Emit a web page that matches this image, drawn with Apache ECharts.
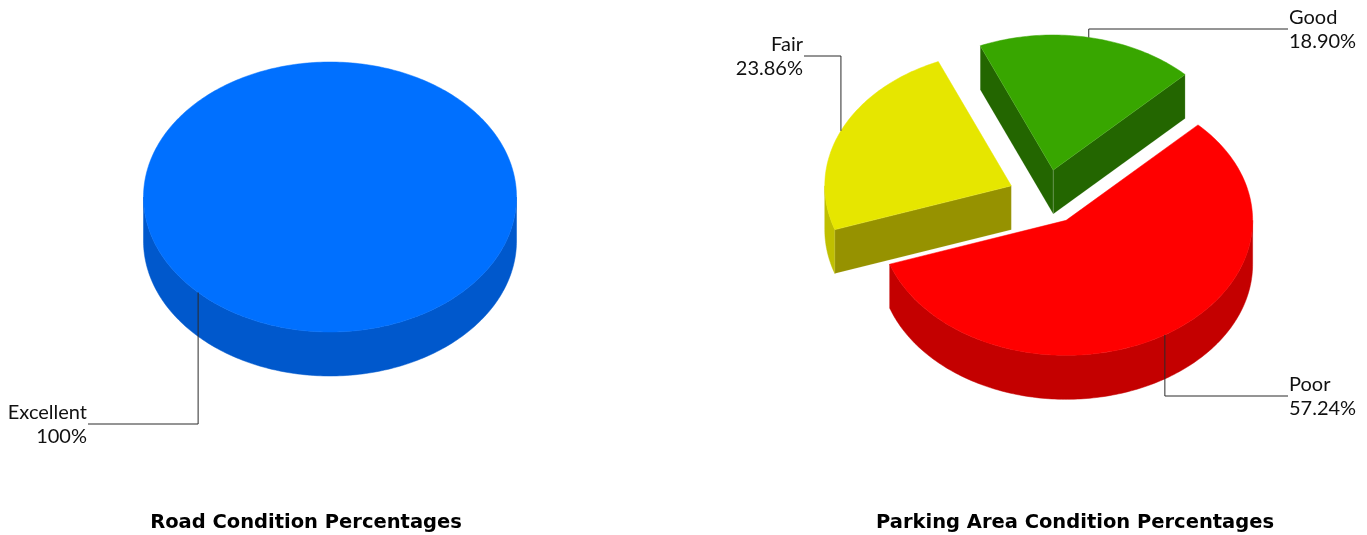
<!DOCTYPE html>
<html>
<head>
<meta charset="utf-8">
<style>
  html, body { margin: 0; padding: 0; background: #fff; }
  #main { width: 1367px; height: 535px; }
</style>
<script src="https://cdn.jsdelivr.net/npm/echarts@6/dist/echarts.min.js"></script>
</head>
<body>
<div id="main"></div>
<script>
// ---------------- data ----------------
const roadNames = ["Excellent"];
const roadValues = [100];
const parkingNames = ["Poor", "Fair", "Good"];
const parkingValues = [57.24, 23.86, 18.9];
const chartTitles = ["Road Condition Percentages", "Parking Area Condition Percentages"];

// ---------------- style / layout ----------------
const roadColors = [{ top: "#0070FF", side: "#0058CC", cut: "#0050B8" }];
const parkingColors = [
  { top: "#FF0000", side: "#C40000", cut: "#A80000" },
  { top: "#E6E600", side: "#BFBF00", cut: "#969200" },
  { top: "#38A600", side: "#2A7A00", cut: "#236600" },
];
const FONT = "Lato, 'DejaVu Sans', sans-serif";
const TITLE_FONT = "'DejaVu Sans', sans-serif";
const R = 186.5; // horizontal radius
const r = 135; // vertical radius (tilt)
const DEPTH = 44;
const START = 45; // clockwise from 12 o'clock
const LABEL_ARM = 242;

const pies = [
  { names: roadNames, values: roadValues, colors: roadColors, cx: 330, cy: 197, explode: 0, labelY: [424], titleX: 306 },
  { names: parkingNames, values: parkingValues, colors: parkingColors, cx: 1046, cy: 197, explode: 38, labelY: [396, 56, 29], titleX: 1075 },
];

function rad(a) { return (a * Math.PI) / 180; }
function pt(cx, cy, a, dy) {
  return [cx + R * Math.sin(rad(a)), cy - r * Math.cos(rad(a)) + (dy || 0)];
}
function arc(cx, cy, a0, a1, dy) {
  const n = Math.max(2, Math.ceil(Math.abs(a1 - a0)));
  const pts = [];
  for (let k = 0; k <= n; k++) pts.push(pt(cx, cy, a0 + ((a1 - a0) * k) / n, dy));
  return pts;
}
function pctText(v) {
  return (Number.isInteger(v) ? v : v.toFixed(2)) + "%";
}

function pieSeries(pie) {
  const total = pie.values.reduce((a, b) => a + b, 0);
  let acc = START;
  const slices = pie.values.map((v) => {
    const span = (v / total) * 360;
    const s = { a0: acc, a1: acc + span, full: span >= 359.99 };
    acc += span;
    return s;
  });

  return {
    type: "custom",
    coordinateSystem: "none",
    silent: true,
    data: pie.values.map((v, i) => ({ name: pie.names[i], value: v })),
    renderItem: function (params, api) {
      const i = params.dataIndex;
      const s = slices[i];
      const c = pie.colors[i];
      const mid = (s.a0 + s.a1) / 2;
      const ex = s.full ? 0 : pie.explode;
      const cx = pie.cx + ex * Math.sin(rad(mid));
      const cy = pie.cy - ex * (r / R) * Math.cos(rad(mid));
      const children = [];

      // outer wall (front half only)
      for (let k = -1; k <= 1; k++) {
        const lo = Math.max(s.a0, 90 + 360 * k);
        const hi = Math.min(s.a1, 270 + 360 * k);
        if (hi > lo) {
          children.push({
            type: "polygon",
            z2: 1,
            shape: { points: arc(cx, cy, lo, hi, 0).concat(arc(cx, cy, hi, lo, DEPTH)) },
            style: { fill: c.side, stroke: c.side, lineWidth: 0.5 },
          });
        }
      }
      // cut walls
      if (!s.full) {
        [[s.a0, Math.sin(rad(s.a0)) < 0], [s.a1, Math.sin(rad(s.a1)) > 0]].forEach(([a, vis]) => {
          if (!vis) return;
          const p = pt(cx, cy, a, 0);
          children.push({
            type: "polygon",
            z2: 2,
            shape: { points: [[cx, cy], p, [p[0], p[1] + DEPTH], [cx, cy + DEPTH]] },
            style: { fill: c.cut, stroke: "rgba(255,255,255,0.12)", lineWidth: 1 },
          });
        });
      }
      // top face
      const topPts = s.full ? arc(cx, cy, s.a0, s.a1, 0) : [[cx, cy]].concat(arc(cx, cy, s.a0, s.a1, 0));
      children.push({
        type: "polygon",
        z2: 5,
        shape: { points: topPts },
        style: { fill: c.top, stroke: c.top, lineWidth: 0.5 },
      });

      // label
      const anchor = pt(cx, cy, mid, 0);
      const right = anchor[0] >= pie.cx;
      const ly = pie.labelY[i];
      const lx = pie.cx + (right ? LABEL_ARM : -LABEL_ARM);
      children.push({
        type: "polyline",
        z2: 8,
        shape: { points: [anchor, [anchor[0], ly], [lx, ly]] },
        style: { stroke: "#2a2a2a", lineWidth: 1, fill: null },
      });
      const tx = right ? lx + 1 : lx - 1;
      const align = right ? "left" : "right";
      children.push({
        type: "text",
        z2: 9,
        x: tx,
        y: ly - 11.5,
        style: { text: pie.names[i], align: align, verticalAlign: "middle", font: "20px " + FONT, fill: "#111" },
      });
      children.push({
        type: "text",
        z2: 9,
        x: tx,
        y: ly + 12.5,
        style: { text: pctText(api.value(0)), align: align, verticalAlign: "middle", font: "20px " + FONT, fill: "#111" },
      });
      return { type: "group", children: children };
    },
  };
}

let chartDom = document.getElementById("main");
let myChart = echarts.init(chartDom);
let option;

option = {
  backgroundColor: "#fff",
  animation: false,
  graphic: pies.map((p, i) => ({
    type: "text",
    x: p.titleX,
    y: 522.5,
    style: { text: chartTitles[i], align: "center", verticalAlign: "middle", font: "bold 19.5px " + TITLE_FONT, fill: "#000" },
  })),
  series: pies.map(pieSeries),
};
myChart.setOption(option);

window.onresize = function () {
  myChart.resize();
};
</script>
</body>
</html>
